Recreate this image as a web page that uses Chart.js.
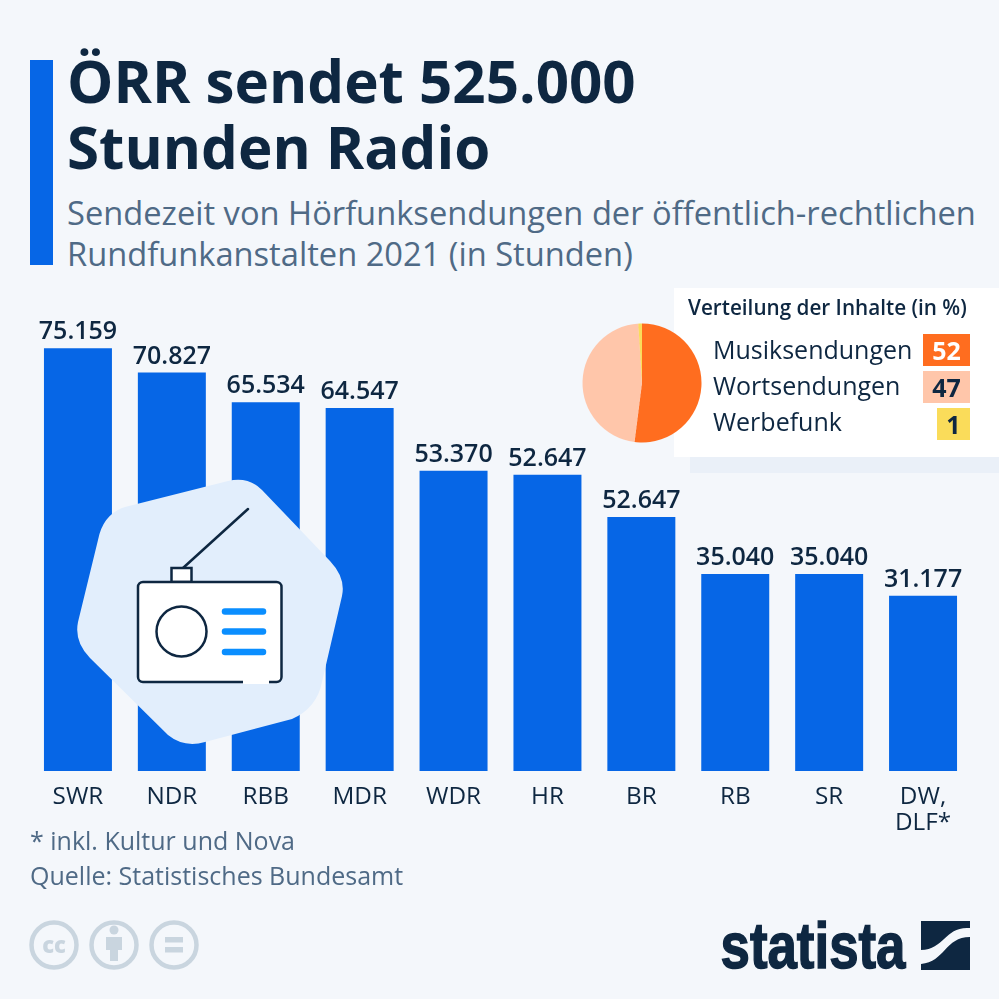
<!DOCTYPE html>
<html lang="de"><head><meta charset="utf-8">
<script src="https://cdn.jsdelivr.net/npm/chart.js@4"></script>
<style>
html,body{margin:0;padding:0;background:#f4f7fb;overflow:hidden}
#page{position:relative;width:999px;height:999px;font-family:"Open Sans",sans-serif;overflow:hidden}
#page div.t{position:absolute;white-space:nowrap}
canvas{position:absolute}
svg{position:absolute;left:0;top:0}
</style></head><body>
<div id="page">
<div style="position:absolute;left:30px;top:60px;width:23px;height:205px;background:#0666e6"></div>
<div class="t" style="left:67px;top:48px;font-size:58.300px;font-weight:700;line-height:66px;color:#0e2741">ÖRR sendet 525.000<br>Stunden Radio</div>
<div class="t" style="left:67px;top:192px;font-size:32.670px;line-height:41px;color:#4f6a86">Sendezeit von Hörfunksendungen der öffentlich-rechtlichen<br>Rundfunkanstalten 2021 (in Stunden)</div>
<canvas id="bars" width="999" height="999" style="left:0;top:0;width:999px;height:999px"></canvas>
<svg width="999" height="999" viewBox="0 0 999 999">
<path d="M125 507 L228 481 Q248 476 262 490 L330 561 Q346 578 342 596 L322 682 Q317 708 292 719 L205 742 Q184 748 168 735 L90 658 Q74 642 78 622 L98 540 Q103 514 125 507 Z" fill="#e2eefc"/>
<line x1="183" y1="568" x2="248" y2="509" stroke="#0e2741" stroke-width="2.5" stroke-linecap="round"/>
<rect x="171.500" y="568" width="20" height="14" fill="#fff" stroke="#0e2741" stroke-width="2.500"/>
<rect x="138" y="582" width="143.500" height="100" rx="5" fill="#fff" stroke="#0e2741" stroke-width="2.500"/>
<rect x="243" y="680" width="26" height="4" fill="#fff"/>
<circle cx="181.500" cy="631.500" r="25" fill="#fff" stroke="#0e2741" stroke-width="2.500"/>
<g stroke="#0a8eff" stroke-width="6.500" stroke-linecap="round"><line x1="225" y1="611.500" x2="263" y2="611.500"/><line x1="225" y1="631.500" x2="263" y2="631.500"/><line x1="225" y1="652" x2="263" y2="652"/></g>
</svg>
<div style="position:absolute;left:690px;top:457px;width:309px;height:16px;background:#eaf0f8"></div>
<div style="position:absolute;left:674px;top:288px;width:325px;height:169px;background:#fff"></div>
<canvas id="pie" width="130" height="130" style="left:577px;top:318px;width:130px;height:130px"></canvas>
<div class="t" style="left:688px;top:294px;font-size:20.700px;font-weight:600;line-height:26px;color:#0e2741">Verteilung der Inhalte (in %)</div>
<div id="legend"></div>
<div class="t" style="left:30px;top:824px;font-size:25px;line-height:32px;color:#4f6a86">* inkl. Kultur und Nova</div>
<div class="t" style="left:30px;top:859px;font-size:25px;line-height:32px;color:#4f6a86">Quelle: Statistisches Bundesamt</div>
<svg width="999" height="999" viewBox="0 0 999 999" style="pointer-events:none">
<g fill="none" stroke="#c9d5df" stroke-width="4.500"><circle cx="54" cy="945" r="22.500"/><circle cx="114" cy="945" r="22.500"/><circle cx="174" cy="945" r="22.500"/></g>
<text x="54" y="953" text-anchor="middle" font-family="Open Sans" font-weight="800" font-size="22" fill="#c9d5df">cc</text>
<circle cx="114" cy="930" r="4.500" fill="#c9d5df"/><path d="M106 937h16v13h-4v11h-8v-11h-4z" fill="#c9d5df"/>
<rect x="165" y="937" width="18" height="5.500" fill="#c9d5df"/><rect x="165" y="947" width="18" height="5.500" fill="#c9d5df"/>
<text x="720.500" y="968" textLength="185" lengthAdjust="spacingAndGlyphs" font-family="Liberation Sans Narrow, Liberation Sans" font-weight="700" font-size="64" fill="#0e2741" stroke="#0e2741" stroke-width="1.500">statista</text>
<rect x="921" y="921" width="49" height="49" fill="#0e2741"/>
<path d="M970 928 C945 926 945 949 921 950 L921 964 C945 962 945 937 970 937 Z" fill="#f4f7fb"/>
</svg>
</div>
<script>
const categories = [["SWR"],["NDR"],["RBB"],["MDR"],["WDR"],["HR"],["BR"],["RB"],["SR"],["DW,","DLF*"]];
const barValues = [75159,70827,65534,64547,53370,52647,45140,35040,35040,31177];
const barLabels = ["75.159","70.827","65.534","64.547","53.370","52.647","52.647","35.040","35.040","31.177"];
const pieLabels = ["Musiksendungen","Wortsendungen","Werbefunk"];
const pieValues = [52,47,1];
const pieColors = ["#ff6d1f","#ffc6aa","#fadc5a"];
const pieTextColors = ["#fff","#0e2741","#0e2741"];
const navy = "#0e2741";

const labelPlugin = {id:"barLabels",afterDatasetsDraw(chart){
  const c = chart.ctx; c.save();
  c.font = '600 25px "Open Sans"'; c.fillStyle = navy; c.textAlign = "center"; c.textBaseline = "alphabetic";
  chart.getDatasetMeta(0).data.forEach((b,i)=>c.fillText(barLabels[i],b.x,b.y-9));
  c.restore();
}};
new Chart(document.getElementById("bars"),{
  type:"bar",
  data:{labels:categories,datasets:[{data:barValues,backgroundColor:"#0666e6",barPercentage:0.724,categoryPercentage:1,borderWidth:0}]},
  options:{responsive:false,animation:false,devicePixelRatio:1,
    layout:{padding:{left:31,right:29,top:321,bottom:168}},
    plugins:{legend:{display:false},tooltip:{enabled:false}},
    scales:{
      y:{display:false,min:0,max:80000},
      x:{afterFit(s){s.height=60;},grid:{display:false},border:{display:false},
         ticks:{color:navy,maxRotation:0,autoSkip:false,padding:5,font:{family:'"Open Sans"',size:24.3,lineHeight:1.07}}}
    }},
  plugins:[labelPlugin]
});
new Chart(document.getElementById("pie"),{
  type:"pie",
  data:{labels:pieLabels,datasets:[{data:pieValues,backgroundColor:pieColors,borderWidth:0}]},
  options:{responsive:false,animation:false,devicePixelRatio:2,layout:{padding:5.5},plugins:{legend:{display:false},tooltip:{enabled:false}}}
});
const lg=document.getElementById("legend");
const tops=[334,371,408], boxL=[923,923,937];
pieLabels.forEach((n,i)=>{
  lg.insertAdjacentHTML("beforeend",`<div class="t" style="left:713px;top:${tops[i]-1-i}px;font-size:25px;line-height:32px;color:${navy}">${n}</div>`+
  `<div class="t" style="left:${boxL[i]}px;top:${tops[i]}px;width:${970-boxL[i]}px;height:32px;text-align:center;background:${pieColors[i]};color:${pieTextColors[i]};font-size:25px;font-weight:700;line-height:32px">${pieValues[i]}</div>`);
});
</script>
</body></html>
